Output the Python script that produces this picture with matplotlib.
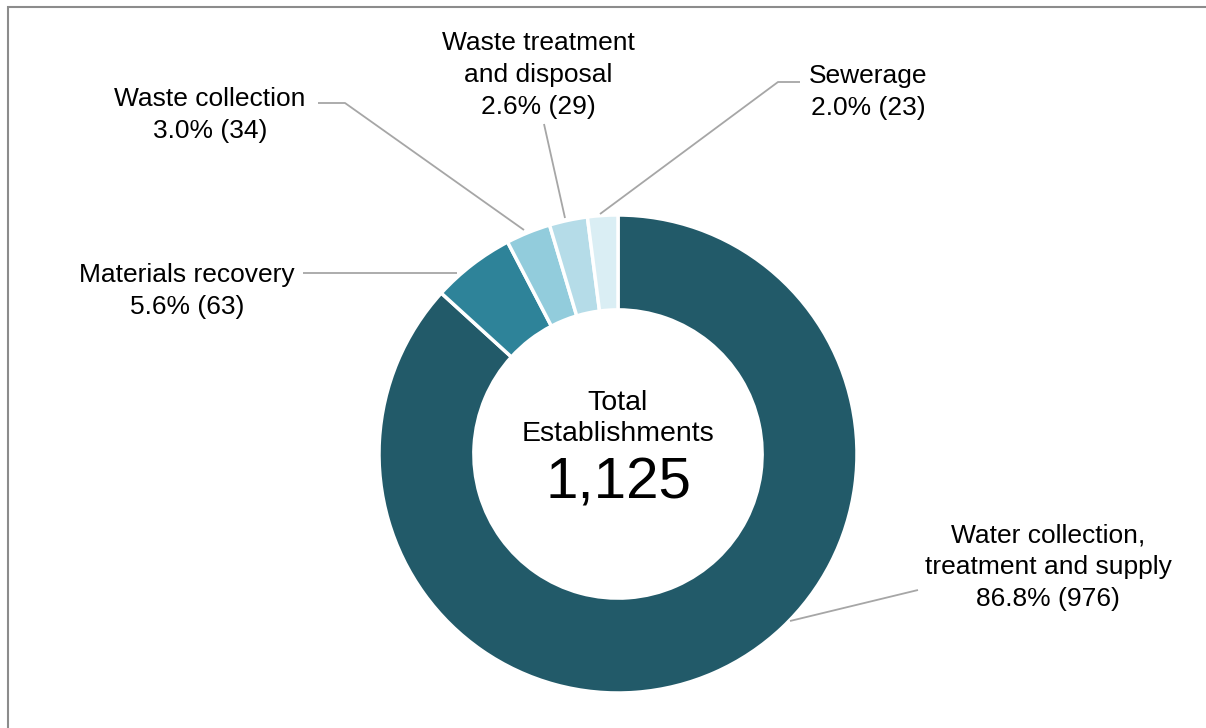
import matplotlib
matplotlib.use("Agg")
import matplotlib.pyplot as plt
from matplotlib.patches import Rectangle

plt.rcParams['font.family'] = ['Liberation Sans', 'DejaVu Sans']

categories = ["Water collection,\ntreatment and supply", "Materials recovery",
              "Waste collection", "Waste treatment\nand disposal", "Sewerage"]
values = [976, 63, 34, 29, 23]
colors = ["#225A69", "#2E8399", "#92CCDC", "#B5DCE8", "#DAEEF4"]
total_label = "1,125"

W, H = 1206, 728
fig = plt.figure(figsize=(W / 100, H / 100), dpi=100)
ax = fig.add_axes([0, 0, 1, 1])

def Y(py):
    return H - py

cx, cy, R = 618, Y(454), 239
total = sum(values)
ax.pie(values, colors=colors, startangle=90, counterclock=False,
       center=(cx, cy), radius=R, frame=True,
       wedgeprops=dict(width=R * 0.397, edgecolor='white', linewidth=2.5))
ax.set_xlim(0, W)
ax.set_ylim(0, H)
ax.set_aspect('auto')
ax.axis('off')

# border
ax.add_patch(Rectangle((8, -20), W + 20, Y(7) + 20, fill=False,
                       edgecolor='#8C8C8C', linewidth=1.5, zorder=0))

fs = 19
lc = '#A6A6A6'
labels = []
for c, v in zip(categories, values):
    labels.append(f"{c}\n{v / total * 100:.1f}% ({v})")

# label positions (text centers) and leader lines
specs = [
    (1048, 567, [(790, 621), (918, 590)]),
    (187, 291, [(457, 273), (303, 273)]),
    (210, 115, [(524, 230), (345, 103), (318, 103)]),
    (538, 75, [(565, 218), (544, 124)]),
    (868, 92, [(600, 214), (778, 82), (800, 82)]),
]
for lab, (tx, ty, pts) in zip(labels, specs):
    ax.text(tx, Y(ty), lab, ha='center', va='center', fontsize=fs,
            linespacing=1.4, color='black')
    ax.plot([p[0] for p in pts], [Y(p[1]) for p in pts], color=lc, lw=1.3,
            solid_capstyle='butt')

ax.text(cx, Y(403), "Total", ha='center', va='center', fontsize=20.5)
ax.text(cx, Y(434), "Establishments", ha='center', va='center', fontsize=20.5)
ax.text(cx, Y(483), total_label, ha='center', va='center', fontsize=42)

fig.savefig("out.png", dpi=100)
